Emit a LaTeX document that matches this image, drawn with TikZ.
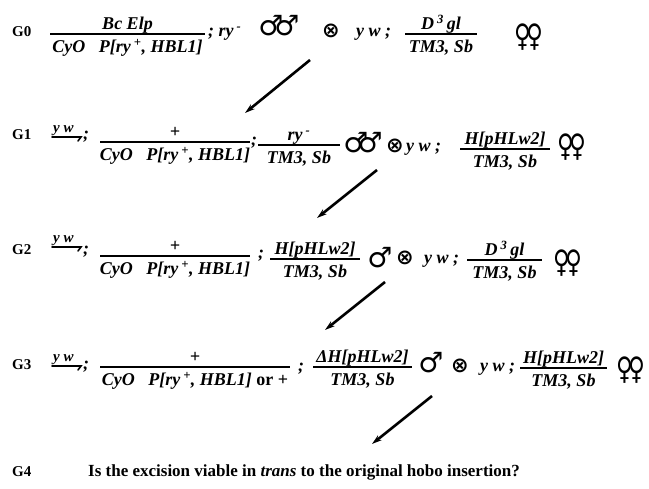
\documentclass[tikz,border=0pt]{standalone}
\usepackage{fontspec}
\usepackage{graphicx}
\setmainfont{Liberation Serif}
\newfontfamily\symfont{DejaVu Sans}
\usetikzlibrary{arrows.meta}
\newcommand{\frc}[6]{%
  \node[gt] (#1n) at ({(#2+#3)/2},{#4-4}) {#5};
  \node[gt] (#1d) at ({(#2+#3)/2},{#4+19}) {#6};
  \draw[bar] (#2,#4) -- (#3,#4);
}
\newcommand{\ychr}[3]{% name, x, baseline
  \node[yw] (#1) at (#2,#3) {y w};
  \draw[hook] (#2-1,#3+4) -- (#2+28,#3+4) -- (#2+25,#3+8);
}
\newcommand{\cyo}{CyO\ \ \ P[ry\,\textsuperscript{+}, HBL1]}
\newcommand{\ffem}{\scalebox{1}[1.35]{♀\kern-5.5pt♀}}
\begin{document}
\begin{tikzpicture}[x=1pt,y=-1pt,
  lab/.style={font=\fontsize{15}{17}\selectfont\bfseries, inner sep=0, anchor=base west},
  gt/.style={font=\fontsize{18}{20}\selectfont\bfseries\itshape, inner sep=0, anchor=base},
  gtw/.style={gt, anchor=base west},
  yw/.style={font=\fontsize{15}{16}\selectfont\bfseries\itshape, inner sep=0, anchor=base west},
  bar/.style={line width=1.9pt},
  hook/.style={line width=1.6pt, line cap=round},
  male/.style={font=\symfont\bfseries\fontsize{28}{30}\selectfont, inner sep=0},
  cross/.style={font=\symfont\bfseries\fontsize{21}{23}\selectfont, inner sep=0},
  fem/.style={font=\symfont\bfseries\fontsize{23}{25}\selectfont, inner sep=0},
  arr/.style={line width=2.6pt, -{Stealth[length=10pt,width=6pt]}}
]
\useasboundingbox (0,0) rectangle (649,489);
% G0
\node[lab] (g0) at (12,37) {G0};
\frc{f0a}{50}{205}{34}{Bc Elp}{\cyo}
\node[gtw] (s0) at (208,37) {;\ ry\,\textsuperscript{-}};
\node[male] (m0) at (279,26) {♂\kern-9pt♂};
\node[cross] (x0) at (331,31) {⊗};
\node[gtw] (yw0) at (356,37) {y w ;};
\frc{f0b}{405}{477}{34}{D\,\textsuperscript{3}\,gl}{TM3, Sb}
\node[fem] (ff0) at (529,37) {\ffem};
% G1
\node[lab] (g1) at (12,140) {G1};
\ychr{y1}{53}{133}
\node[gtw] (sc1) at (83,140) {;};
\frc{f1a}{100}{250}{142}{+}{\cyo}
\node[gtw] (sc1b) at (251,146) {;};
\frc{f1b}{258}{340}{145}{ry\,\textsuperscript{-}}{TM3, Sb}
\node[male] (m1) at (363,143) {♂\kern-11pt♂};
\node[cross] (x1) at (395,146) {⊗};
\node[gtw] (yw1) at (406,152) {y w ;};
\frc{f1c}{460}{550}{149}{H[pHLw2]}{TM3, Sb}
\node[fem] (ff1) at (572,147) {\ffem};
% G2
\node[lab] (g2) at (12,255) {G2};
\ychr{y2}{53}{243}
\node[gtw] (sc2) at (83,255) {;};
\frc{f2a}{100}{250}{256}{+}{\cyo}
\node[gtw] (sc2b) at (258,259) {;};
\frc{f2b}{270}{360}{259}{H[pHLw2]}{TM3, Sb}
\node[male] (m2) at (380,258) {♂};
\node[cross] (x2) at (405,258) {⊗};
\node[gtw] (yw2) at (424,264) {y w ;};
\frc{f2c}{467}{542}{260}{D\,\textsuperscript{3}\,gl}{TM3, Sb}
\node[fem] (ff2) at (568,263) {\ffem};
% G3
\node[lab] (g3) at (12,370) {G3};
\ychr{y3}{53}{362}
\node[gtw] (sc3) at (83,370) {;};
\frc{f3a}{100}{290}{367}{+}{\cyo\ \upshape or +}
\node[gtw] (sc3b) at (298,372) {;};
\frc{f3b}{313}{412}{367}{ΔH[pHLw2]}{TM3, Sb}
\node[male] (m3) at (431,363) {♂};
\node[cross] (x3) at (460,366) {⊗};
\node[gtw] (yw3) at (480,372) {y w ;};
\frc{f3c}{520}{607}{368}{H[pHLw2]}{TM3, Sb}
\node[fem] (ff3) at (631,370) {\ffem};
% G4
\node[lab] (g4) at (12,477) {G4};
\node[lab, font=\fontsize{17}{19}\selectfont\bfseries] (q4) at (88,477) {Is the excision viable in \textit{trans} to the original hobo insertion?};
% arrows
\coordinate (a1s) at (310,60); \coordinate (a1e) at (245,113);
\coordinate (a2s) at (377,170); \coordinate (a2e) at (317,218);
\coordinate (a3s) at (385,282); \coordinate (a3e) at (325,330);
\coordinate (a4s) at (432,396); \coordinate (a4e) at (372,444);
\draw[arr] (a1s) -- (a1e);
\draw[arr] (a2s) -- (a2e);
\draw[arr] (a3s) -- (a3e);
\draw[arr] (a4s) -- (a4e);
\end{tikzpicture}
\end{document}
